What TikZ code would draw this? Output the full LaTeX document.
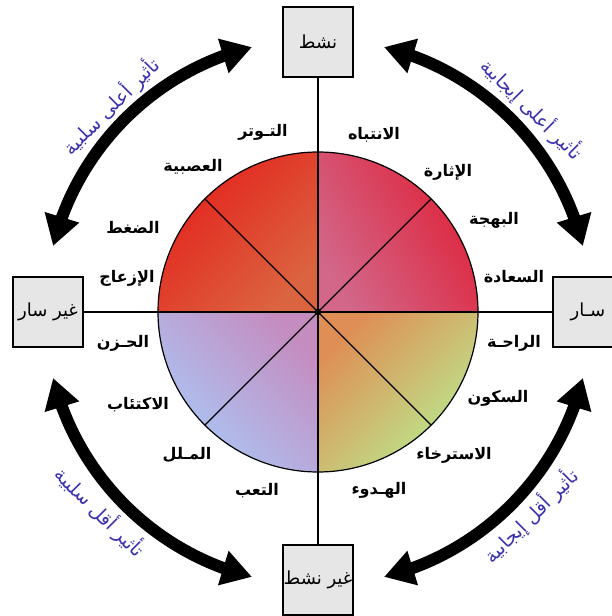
\documentclass[tikz,border=0pt]{standalone}
\usepackage{fontspec}
\newfontfamily\arabicfont[Script=Arabic]{DejaVu Sans}
\TeXXeTstate=1
\usetikzlibrary{arrows.meta,bending,calc}

\definecolor{boxgray}{HTML}{E6E6E6}
\definecolor{effectblue}{HTML}{3A30B0}
\definecolor{tlred}{HTML}{E4211C}
\definecolor{tlorange}{HTML}{DB6440}
\definecolor{trred}{HTML}{DF2238}
\definecolor{trpink}{HTML}{D2678A}
\definecolor{blblue}{HTML}{A9C9F7}
\definecolor{blmauve}{HTML}{C58CC0}
\definecolor{brgreen}{HTML}{B9EC90}
\definecolor{brorange}{HTML}{DF8E55}

\tikzset{
  statebox/.style={draw, line width=1.3pt, fill=boxgray, minimum width=70pt,
    minimum height=70pt, inner sep=0pt, font=\arabicfont\fontsize{18}{20}\selectfont},
  feel/.style={inner sep=1pt, font=\arabicfont\bfseries\fontsize{16}{18}\selectfont},
  effect/.style={inner sep=1pt, text=effectblue, font=\arabicfont\fontsize{19}{21}\selectfont},
  bigarrow/.style={line width=12pt,
    {Triangle[width=34pt,length=30pt]}-{Triangle[width=34pt,length=30pt]}},
}

\begin{document}
\begin{tikzpicture}[x=1pt, y=1pt]
\clip (-318,-304) rectangle (294,312);
\coordinate (center) at (0, 0);

% quadrants
\shade [top color=tlred, bottom color=tlorange, shading angle=45]
  (center) -- (90:160) arc [start angle=90, end angle=180, radius=160] -- cycle;
\shade [top color=trred, bottom color=trpink, shading angle=-60]
  (center) -- (0:160) arc [start angle=0, end angle=90, radius=160] -- cycle;
\shade [top color=blmauve, bottom color=blblue, shading angle=-45]
  (center) -- (180:160) arc [start angle=180, end angle=270, radius=160] -- cycle;
\shade [top color=brorange, bottom color=brgreen, shading angle=45]
  (center) -- (270:160) arc [start angle=270, end angle=360, radius=160] -- cycle;
\draw [line width=1.2pt] (center) circle [radius=160];

% boxes
\node[statebox] (active) at (0, 270) {\beginR نشط\endR};
\node[statebox] (inactive) at (0, -268) {\beginR غير نشط\endR};
\node[statebox] (pleasant) at (270, 0) {\beginR سـار\endR};
\node[statebox] (unpleasant) at (-270, 0) {\beginR غير سار\endR};

\draw [line width=1.1pt] (active) to (inactive);
\draw [line width=1.1pt] (unpleasant) to (pleasant);

\coordinate (spoke1) at (45:160);
\coordinate (spoke2) at (135:160);
\coordinate (spoke3) at (225:160);
\coordinate (spoke4) at (315:160);
\draw [line width=1.1pt] (spoke1) to (spoke3);
\draw [line width=1.1pt] (spoke2) to (spoke4);
\filldraw (center) circle [radius=3pt];

%labels
\node[feel] (attention) at (56, 177) {\beginR الانتباه\endR};
\node[feel] (excitement) at (130, 140) {\beginR الإثارة\endR};
\node[feel] (joy) at (176, 92) {\beginR البهجة\endR};
\node[feel] (happiness) at (196, 35) {\beginR السعادة\endR};

\node[feel] (tension) at (-55, 180) {\beginR التـوتر\endR};
\node[feel] (nervous) at (-125, 145) {\beginR العصبية\endR};
\node[feel] (stress) at (-185, 85) {\beginR الضغط\endR};
\node[feel] (annoyance) at (-191, 34) {\beginR الإزعاج\endR};

\node[feel] (sadness) at (-195, -31) {\beginR الحـزن\endR};
\node[feel] (depression) at (-180, -93) {\beginR الاكتئاب\endR};
\node[feel] (boredom) at (-131, -143) {\beginR المـلل\endR};
\node[feel] (fatigue) at (-61, -179) {\beginR التعب\endR};

\node[feel] (comfort) at (196, -31) {\beginR الراحـة\endR};
\node[feel] (stillness) at (180, -86) {\beginR السكون\endR};
\node[feel] (relax) at (136, -143) {\beginR الاسترخاء\endR};
\node[feel] (calm) at (61, -178) {\beginR الهـدوء\endR};

% arrows
\coordinate (tl1) at (104:273);
\coordinate (tl2) at (166:273);
\draw [bigarrow] (tl1) arc [start angle=104, end angle=166, radius=273];
\coordinate (tr1) at (76:273);
\coordinate (tr2) at (14:273);
\draw [bigarrow] (tr1) arc [start angle=76, end angle=14, radius=273];
\coordinate (bl1) at (194:273);
\coordinate (bl2) at (256:273);
\draw [bigarrow] (bl1) arc [start angle=194, end angle=256, radius=273];
\coordinate (br1) at (284:273);
\coordinate (br2) at (346:273);
\draw [bigarrow] (br1) arc [start angle=284, end angle=346, radius=273];

\node[effect, rotate=45] (highneg) at (-207, 206) {\beginR تأثير أعلى سلبية\endR};
\node[effect, rotate=-45] (highpos) at (214, 203) {\beginR تأثير أعلى إيجابية\endR};
\node[effect, rotate=-45] (lowneg) at (-218, -200) {\beginR تأثير أقل سلبية\endR};
\node[effect, rotate=45] (lowpos) at (213, -204) {\beginR تأثير أقل إيجابية\endR};

\end{tikzpicture}
\end{document}
